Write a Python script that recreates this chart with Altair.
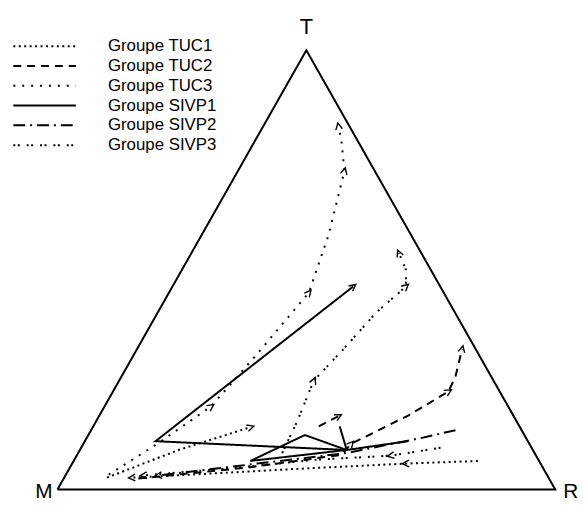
import math
import altair as alt
import pandas as pd

# ---------------- data (ternary coordinates in %: T = top, R = right; M = 100 - T - R)
GROUPS = ["Groupe TUC1", "Groupe TUC2", "Groupe TUC3",
          "Groupe SIVP1", "Groupe SIVP2", "Groupe SIVP3"]

TUC1_A_T = [6.5, 5.9, 4.7, 3.6, 2.7]
TUC1_A_R = [81.2, 67.0, 45.8, 28.4, 13.6]
TUC1_B_T = [2.7, 9.0, 14.2]
TUC1_B_R = [8.6, 19.8, 31.7]

TUC2_A_T = [2.5, 5.0, 7.9, 10.4, 16.9, 22.3, 25.7, 32.0]
TUC2_A_R = [15.0, 35.7, 53.1, 53.8, 62.1, 67.4, 67.1, 65.3]
TUC2_B_T = [14.4, 16.7]
TUC2_B_R = [45.3, 48.1]

TUC3_T = [3.4, 10.1, 18.9, 30.9, 44.8, 57.9, 72.5, 79.3, 82.7]
TUC3_R = [8.6, 14.6, 21.4, 24.7, 28.1, 25.5, 21.4, 17.4, 15.1]

SIVP1_A_T = [11.0, 9.0, 11.0, 46.2]
SIVP1_A_R = [64.9, 53.6, 14.2, 36.3]
SIVP1_B_T = [9.0, 12.4, 6.5, 9.0]
SIVP1_B_R = [53.6, 43.5, 35.5, 53.6]
SIVP1_C_T = [14.4, 9.0]
SIVP1_C_R = [49.5, 53.6]

SIVP2_T = [13.5, 11.7, 8.3, 5.9, 3.2]
SIVP2_R = [73.2, 67.1, 53.9, 37.2, 18.7]

SIVP3_A_T = [8.3, 15.5, 24.8, 32.0, 40.3, 46.2, 50.0, 53.8]
SIVP3_A_R = [41.0, 40.4, 39.1, 41.5, 43.9, 46.9, 45.0, 41.7]
SIVP3_B_T = [9.5, 7.7, 6.8, 5.0, 3.2]
SIVP3_B_R = [72.2, 63.1, 48.7, 33.7, 15.7]

PATHS = [
    ("Groupe TUC1", "TUC1a", TUC1_A_T, TUC1_A_R, [1, 4]),
    ("Groupe TUC1", "TUC1b", TUC1_B_T, TUC1_B_R, [2]),
    ("Groupe TUC2", "TUC2a", TUC2_A_T, TUC2_A_R, [3, 5, 7]),
    ("Groupe TUC2", "TUC2b", TUC2_B_T, TUC2_B_R, [1]),
    ("Groupe TUC3", "TUC3", TUC3_T, TUC3_R, [2, 4, 6, 8]),
    ("Groupe SIVP1", "SIVP1a", SIVP1_A_T, SIVP1_A_R, [3]),
    ("Groupe SIVP1", "SIVP1b", SIVP1_B_T, SIVP1_B_R, []),
    ("Groupe SIVP1", "SIVP1c", SIVP1_C_T, SIVP1_C_R, []),
    ("Groupe SIVP2", "SIVP2", SIVP2_T, SIVP2_R, [4]),
    ("Groupe SIVP3", "SIVP3a", SIVP3_A_T, SIVP3_A_R, [2, 5, 7]),
    ("Groupe SIVP3", "SIVP3b", SIVP3_B_T, SIVP3_B_R, [1, 4]),
]

VERTEX_LABELS = ["T", "M", "R"]

# ---------------- style
W, H = 503, 444
DASHES = [[2, 3.5], [8, 6], [2, 7], [1, 0], [12, 5, 2, 5], [2, 2.5, 2, 7]]
FONT = "Liberation Sans"

# ---------------- build tables
rows, arrows = [], []
for g, pid, Ts, Rs, arr in PATHS:
    for i, (t, r) in enumerate(zip(Ts, Rs)):
        x, y = r + t / 2.0, t
        rows.append(dict(group=g, path=pid, i=i, x=x, y=y))
        if i in arr and i > 0:
            x0, y0 = Rs[i - 1] + Ts[i - 1] / 2.0, Ts[i - 1]
            dxp = (x - x0) * W / 100.0
            dyp = -(y - y0) * H / 100.0
            ang = math.degrees(math.atan2(dxp, -dyp)) % 360
            arrows.append(dict(group=g, x=x, y=y, angle=ang))
lines_df = pd.DataFrame(rows)
arrows_df = pd.DataFrame(arrows)

tri_df = pd.DataFrame({"x": [0, 100, 50, 0], "y": [0, 0, 100, 0], "o": [0, 1, 2, 3]})
lab_df = pd.DataFrame({"label": VERTEX_LABELS, "x": [50, 0, 100], "y": [100, 0, 0]})

xs = alt.Scale(domain=[0, 100], nice=False, zero=False)
ys = alt.Scale(domain=[0, 100], nice=False, zero=False)
X = alt.X("x:Q", scale=xs, axis=None)
Y = alt.Y("y:Q", scale=ys, axis=None)

triangle = alt.Chart(tri_df).mark_line(color="black", strokeWidth=2).encode(
    x=X, y=Y, order="o:Q")

traj = alt.Chart(lines_df).mark_line(color="black", strokeWidth=2).encode(
    x=X, y=Y,
    detail="path:N",
    order="i:Q",
    strokeDash=alt.StrokeDash(
        "group:N",
        scale=alt.Scale(domain=GROUPS, range=DASHES),
        legend=alt.Legend(
            orient="none", legendX=-22, legendY=-13, title=None,
            symbolType="M -4 0 L 4 0", symbolSize=250, symbolStrokeWidth=2,
            symbolStrokeColor="black", symbolFillColor="transparent",
            labelFontSize=17, labelFont=FONT,
            labelColor="black", labelOffset=55, rowPadding=3, padding=0,
        ),
    ),
)

heads = alt.Chart(arrows_df).mark_point(
    shape="M -1 1 L 0 -1 L 1 1", filled=False, color="black",
    strokeWidth=1.4, size=45, opacity=1,
).encode(x=X, y=Y, angle=alt.Angle("angle:Q", scale=None))

lab_t = alt.Chart(lab_df[lab_df.label == "T"]).mark_text(
    font=FONT, fontSize=22, align="center", baseline="alphabetic", dy=-16, color="black"
).encode(x=X, y=Y, text="label:N")
lab_m = alt.Chart(lab_df[lab_df.label == "M"]).mark_text(
    font=FONT, fontSize=21, align="right", baseline="alphabetic", dx=-5, dy=9, color="black"
).encode(x=X, y=Y, text="label:N")
lab_r = alt.Chart(lab_df[lab_df.label == "R"]).mark_text(
    font=FONT, fontSize=21, align="left", baseline="alphabetic", dx=8, dy=9, color="black"
).encode(x=X, y=Y, text="label:N")

chart = alt.layer(triangle, traj, heads, lab_t, lab_m, lab_r).properties(
    width=W, height=H,
    autosize=alt.AutoSizeParams(type="none"),
    padding={"left": 50, "top": 40, "right": 23, "bottom": 9},
).configure(font=FONT).configure_view(stroke=None)

chart.save("out.html", embed_options={"renderer": "svg", "actions": False})
